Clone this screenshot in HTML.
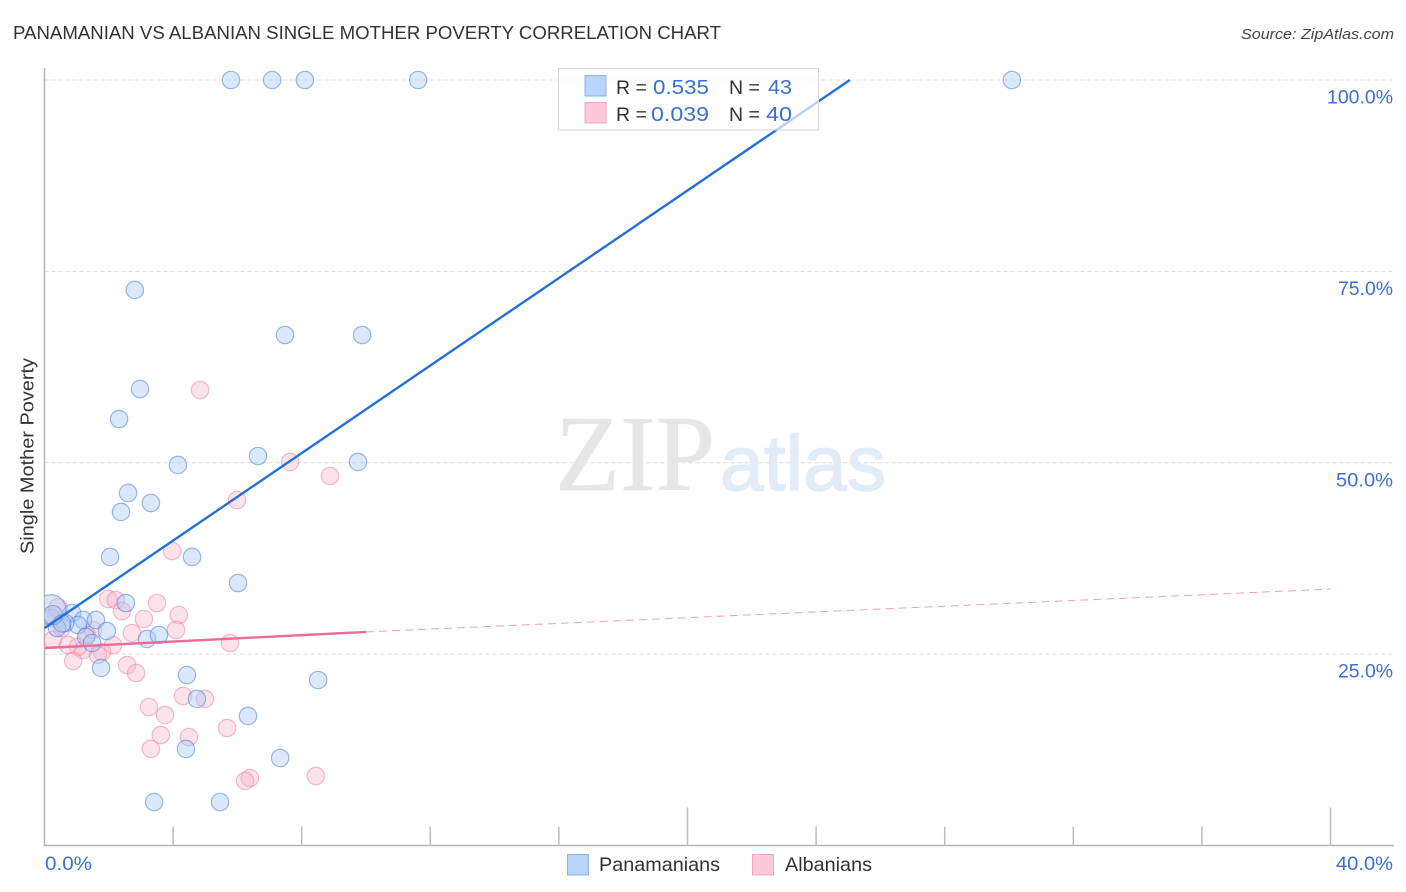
<!DOCTYPE html>
<html lang="en">
<head>
<meta charset="utf-8">
<title>Panamanian vs Albanian Single Mother Poverty Correlation Chart</title>
<style>
html,body{margin:0;padding:0;background:#fff;}
body{width:1406px;height:892px;overflow:hidden;font-family:"Liberation Sans",sans-serif;}
svg{display:block;}
text{font-family:"Liberation Sans",sans-serif;}
</style>
</head>
<body>
<svg id="chart" xmlns="http://www.w3.org/2000/svg" width="1406" height="892" viewBox="0 0 1406 892">
  <defs>
    <clipPath id="plot-clip"><rect x="44.5" y="60" width="1350" height="786"/></clipPath>
  </defs>
  <text x="13" y="39" font-size="18.5" fill="#333" textLength="708" lengthAdjust="spacingAndGlyphs">PANAMANIAN VS ALBANIAN SINGLE MOTHER POVERTY CORRELATION CHART</text>
  <text x="1241" y="39" font-size="15" font-style="italic" fill="#444" textLength="153" lengthAdjust="spacingAndGlyphs">Source: ZipAtlas.com</text>
  <text transform="translate(33.5,554) rotate(-90)" font-size="18" fill="#333" textLength="196" lengthAdjust="spacingAndGlyphs">Single Mother Poverty</text>
  <g id="grid"></g>
  <g>
    <text x="555" y="490" font-size="108" fill="#e6e6e6" stroke="#e6e6e6" stroke-width="0.6" style="font-family:'Liberation Serif',serif" textLength="160" lengthAdjust="spacingAndGlyphs">ZIP</text>
    <text x="720" y="490" font-size="78" fill="#e2ebf8" stroke="#e2ebf8" stroke-width="1.4" textLength="166" lengthAdjust="spacingAndGlyphs">atlas</text>
  </g>
  <g id="axes"></g>
  <g id="points" clip-path="url(#plot-clip)"></g>
  <g id="trends"></g>
  <g id="labels"></g>

  <g>
    <rect x="558.5" y="68.5" width="260" height="61.5" fill="#fff" fill-opacity="0.68" stroke="#d6d6d6" stroke-width="1"/>
    <rect x="585" y="75.5" width="21" height="20.5" fill="#b9d4f9" stroke="#8fb2e8" stroke-width="1"/>
    <rect x="585" y="102.5" width="21" height="20.5" fill="#fbc9da" stroke="#f0a5bf" stroke-width="1"/>
    <text x="616" y="94" font-size="19.5" fill="#333">R =</text>
    <text x="653" y="94" font-size="20.5" fill="#3a70cf" textLength="56" lengthAdjust="spacingAndGlyphs">0.535</text>
    <text x="729" y="94" font-size="19.5" fill="#333">N =</text>
    <text x="768" y="94" font-size="20.5" fill="#3a70cf" textLength="24" lengthAdjust="spacingAndGlyphs">43</text>
    <text x="616" y="121" font-size="19.5" fill="#333">R =</text>
    <text x="651" y="121" font-size="20.5" fill="#3a70cf" textLength="58" lengthAdjust="spacingAndGlyphs">0.039</text>
    <text x="729" y="121" font-size="19.5" fill="#333">N =</text>
    <text x="766" y="121" font-size="20.5" fill="#3a70cf" textLength="26" lengthAdjust="spacingAndGlyphs">40</text>
  </g>

  <g>
    <rect x="567.5" y="854.5" width="21" height="20.5" fill="#b9d4f9" stroke="#8fb2e8" stroke-width="1"/>
    <text x="599" y="871" font-size="19.5" fill="#333" textLength="121" lengthAdjust="spacingAndGlyphs">Panamanians</text>
    <rect x="752.5" y="854.5" width="21" height="20.5" fill="#fbc9da" stroke="#f0a5bf" stroke-width="1"/>
    <text x="785" y="871" font-size="19.5" fill="#333" textLength="87" lengthAdjust="spacingAndGlyphs">Albanians</text>
  </g>
</svg>
<script>
// Values (percent units)
const blueX = [5.80,7.08,8.10,11.62,30.09,2.81,7.48,9.88,2.97,2.32,4.15,6.64,9.75,2.60,2.38,3.31,2.04,4.59,6.02,2.53,0.86,1.20,1.60,1.94,1.04,0.64,0.39,1.29,1.48,1.76,3.19,3.56,4.43,8.51,4.74,6.33,4.40,7.33,3.41,5.46,0.20,0.26,0.55];
const blueY = [100,100,100,100,100,72.57,66.69,66.69,59.63,55.71,49.71,50.88,50.10,46.05,43.57,44.74,37.69,37.69,34.29,31.68,30.37,29.46,29.46,28.02,28.80,29.07,28.41,27.24,26.45,23.19,26.98,27.50,22.27,21.62,19.14,16.92,12.61,11.43,5.68,5.68,30.8,30.1,29.0];
const blueSize = [8.7,8.7,8.7,8.7,8.7,8.7,8.7,8.7,8.7,8.7,8.7,8.7,8.7,8.7,8.7,8.7,8.7,8.7,8.7,8.7,8.7,8.7,8.7,8.7,8.7,8.7,8.7,8.7,8.7,8.7,8.7,8.7,8.7,8.7,8.7,8.7,8.7,8.7,8.7,8.7,15,9.5,8.7];
const pinkX = [1.98,2.22,2.41,3.50,3.09,4.18,4.09,2.72,5.77,2.13,1.79,1.66,1.51,1.32,1.20,1.04,0.73,0.89,0.26,2.57,2.85,4.31,4.99,3.25,3.75,5.68,3.62,4.49,3.31,6.39,6.24,8.44,4.84,7.64,8.88,5.99,3.97,0.42,0.23,0.54];
const pinkY = [32.2,32.07,30.63,31.68,29.59,30.11,28.15,27.76,26.45,26.19,25.28,24.89,28.15,27.50,25.54,25.93,26.19,24.10,26.85,23.58,22.53,19.53,19.14,18.09,17.05,15.35,14.43,14.17,12.61,8.82,8.43,9.08,59.50,50.10,48.27,45.13,38.47,31.03,29.72,28.41];
const pinkSize = [8.7,8.7,8.7,8.7,8.7,8.7,8.7,8.7,8.7,8.7,8.7,8.7,8.7,8.7,8.7,8.7,8.7,8.7,8.7,8.7,8.7,8.7,8.7,8.7,8.7,8.7,8.7,8.7,8.7,8.7,8.7,8.7,8.7,8.7,8.7,8.7,8.7,9.5,8.7,8.7];
const blueTrendX = [0,25.05];
const blueTrendY = [28.4,100];
const pinkTrendX = [0,10];
const pinkTrendY = [25.8,27.9];
const pinkDashX = [10,40];
const pinkDashY = [27.9,33.5];
const yTicks = [25,50,75,100];
const yTickLabels = ['25.0%','50.0%','75.0%','100.0%'];
const yLabelWidths = [55,57,55,66];
const xTicks = [4,8,12,16,20,24,28,32,36,40];
const xMajorTicks = [20,40];
const xEndTicks = [0,40];
const xEndLabels = ['0.0%','40.0%'];

const xScale = function (v) { return 44.5 + v * 32.15; };
const yScale = function (v) { return 845.5 - v * 7.655; };
const NS = 'http://www.w3.org/2000/svg';
function make(tag, parent, attrs) {
  const el = document.createElementNS(NS, tag);
  Object.keys(attrs).forEach(function (k) { el.setAttribute(k, attrs[k]); });
  parent.appendChild(el);
  return el;
}
const gridG = document.getElementById('grid');
const axesG = document.getElementById('axes');
const pointsG = document.getElementById('points');
const trendsG = document.getElementById('trends');
const labelsG = document.getElementById('labels');

yTicks.forEach(function (t, i) {
  const line = make('line', gridG, {x1: 44.5, x2: 1394, y1: yScale(t), y2: yScale(t), stroke: '#dcdcdc', 'stroke-width': 1, 'stroke-dasharray': '4 3'});
  
  
  const label = make('text', labelsG, {x: 1393, y: yScale(t) + 23.5, 'font-size': 19, fill: '#3a70cf', 'text-anchor': 'end', textLength: yLabelWidths[i], lengthAdjust: 'spacingAndGlyphs'});
  
  
  label.textContent = yTickLabels[i];
});

const yAxis = make('line', axesG, {x1: 44.5, x2: 44.5, y1: 68, y2: 846, stroke: '#b5b5b5', 'stroke-width': 1.5});


const xAxis = make('line', axesG, {x1: 44, x2: 1394, y1: 845.5, y2: 845.5, stroke: '#b5b5b5', 'stroke-width': 1.5});


xTicks.forEach(function (t) {
  const top = xMajorTicks.indexOf(t) >= 0 ? 807.5 : 826.5;
  const tick = make('line', axesG, {x1: xScale(t), x2: xScale(t), y1: top, y2: 845.5, stroke: '#bdbdbd', 'stroke-width': 1.5});
  
  
});
xEndTicks.forEach(function (t, i) {
  const label = make('text', labelsG, {x: i === 0 ? xScale(t) + 0.5 : 1393, y: 870, 'font-size': 19, fill: '#3a70cf', 'text-anchor': i === 0 ? 'start' : 'end', textLength: i === 0 ? 47 : 57, lengthAdjust: 'spacingAndGlyphs'});
  
  
  label.textContent = xEndLabels[i];
});

pinkX.forEach(function (v, i) {
  const c = make('circle', pointsG, {cx: xScale(v), cy: yScale(pinkY[i]), r: pinkSize[i], fill: '#f8b4ca', 'fill-opacity': 0.38, stroke: '#e9799d', 'stroke-opacity': 0.5, 'stroke-width': 1.2});
  
  
});
blueX.forEach(function (v, i) {
  const c = make('circle', pointsG, {cx: xScale(v), cy: yScale(blueY[i]), r: blueSize[i], fill: '#a6c8f4', 'fill-opacity': 0.42, stroke: '#4a80d8', 'stroke-opacity': 0.55, 'stroke-width': 1.2});
  
  
});

const pinkDash = make('line', trendsG, {x1: xScale(pinkDashX[0]), x2: xScale(pinkDashX[1]), y1: yScale(pinkDashY[0]), y2: yScale(pinkDashY[1]), stroke: '#ea7fa3', 'stroke-opacity': 0.75, 'stroke-width': 1, 'stroke-dasharray': '8 5'});


const pinkLine = make('line', trendsG, {x1: xScale(pinkTrendX[0]), x2: xScale(pinkTrendX[1]), y1: yScale(pinkTrendY[0]), y2: yScale(pinkTrendY[1]), stroke: '#ec6b98', 'stroke-width': 2.4});


const blueLine = make('line', trendsG, {x1: xScale(blueTrendX[0]), x2: xScale(blueTrendX[1]), y1: yScale(blueTrendY[0]), y2: yScale(blueTrendY[1]), stroke: '#2470d6', 'stroke-width': 2.4});


</script>
</body>
</html>
